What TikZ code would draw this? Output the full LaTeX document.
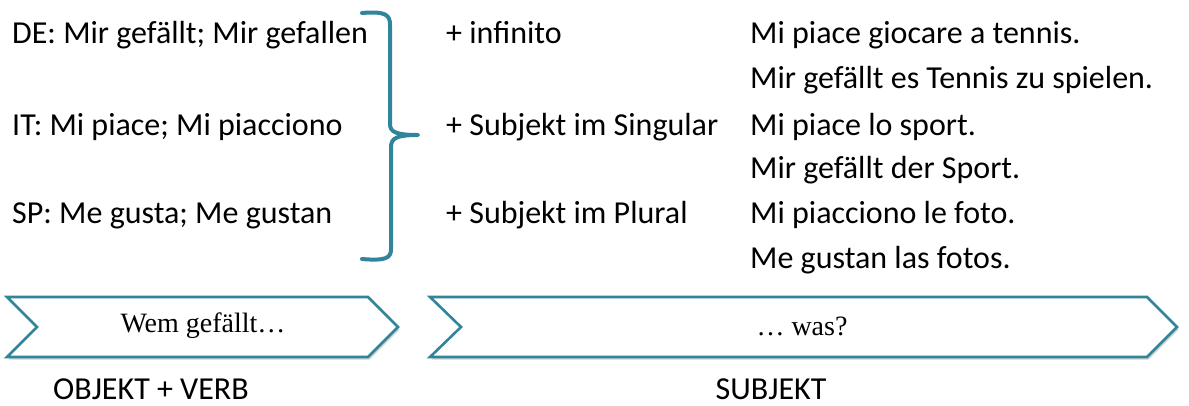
\documentclass[tikz,border=0pt]{standalone}
\usepackage{fontspec}
\setmainfont{Carlito}
\newfontfamily\chevfont{Liberation Serif}
\usetikzlibrary{positioning,shadows}

\definecolor{braceTeal}{RGB}{49,133,155}

\begin{document}
\begin{tikzpicture}[x=1pt, y=-1pt,
    txt/.style={anchor=base west, inner sep=0pt, font=\fontsize{32}{38}\selectfont},
    chevron/.style={draw=braceTeal, line width=2.6pt, fill=white, line join=miter,
      drop shadow={opacity=0.35, shadow xshift=1.5pt, shadow yshift=-2.5pt}},
    chevtext/.style={inner sep=0pt, font=\chevfont\fontsize{28}{32}\selectfont}]

  \useasboundingbox (0,0) rectangle (1189,405);

  \def\colA{12}
  \def\colB{446}
  \def\colC{750}

  % left column
  \node[txt] (de) at (\colA,43) {DE: Mir gefällt; Mir gefallen};
  \node[txt] (it) at (\colA,135) {IT: Mi piace; Mi piacciono};
  \node[txt] (sp) at (\colA,223) {SP: Me gusta; Me gustan};

  % brace
  \draw[braceTeal, line width=4pt, line cap=round, line join=round]
    (362,13) .. controls (386,11) and (390,15) .. (390,25) -- (390,124)
    .. controls (390,132) and (396,135) .. (418,135)
    .. controls (397,135) and (391,138) .. (391,147) -- (391,249)
    .. controls (391,258) and (386,261) .. (362,259);

  % middle column
  \node[txt] (inf) at (\colB,43) {+ infinito};
  \node[txt] (sing) at (\colB,135) {+ Subjekt im Singular};
  \node[txt] (plur) at (\colB,223) {+ Subjekt im Plural};

  % examples
  \node[txt] (ex1) at (\colC,43) {Mi piace giocare a tennis.};
  \node[txt] (ex2) at (\colC,88) {Mir gefällt es Tennis zu spielen.};
  \node[txt] (ex3) at (\colC,135) {Mi piace lo sport.};
  \node[txt] (ex4) at (\colC,178) {Mir gefällt der Sport.};
  \node[txt] (ex5) at (\colC,223) {Mi piacciono le foto.};
  \node[txt] (ex6) at (\colC,268) {Me gustan las fotos.};

  % chevrons
  \draw[chevron] (7,297) -- (368,297) -- (398,327) -- (368,357) -- (7,357)
    -- (37,327) -- cycle;
  \draw[chevron] (430,297) -- (1147,297) -- (1177,327) -- (1147,357) -- (430,357)
    -- (461,327) -- cycle;
  \node[chevtext] (wem) at (203,326) {Wem gefällt…};
  \node[chevtext] (was) at (802,326) {… was?};

  % captions
  \node[txt, anchor=base] (objverb) at (151,399) {OBJEKT + VERB};
  \node[txt, anchor=base] (subj) at (771,399) {SUBJEKT};

\end{tikzpicture}
\end{document}
